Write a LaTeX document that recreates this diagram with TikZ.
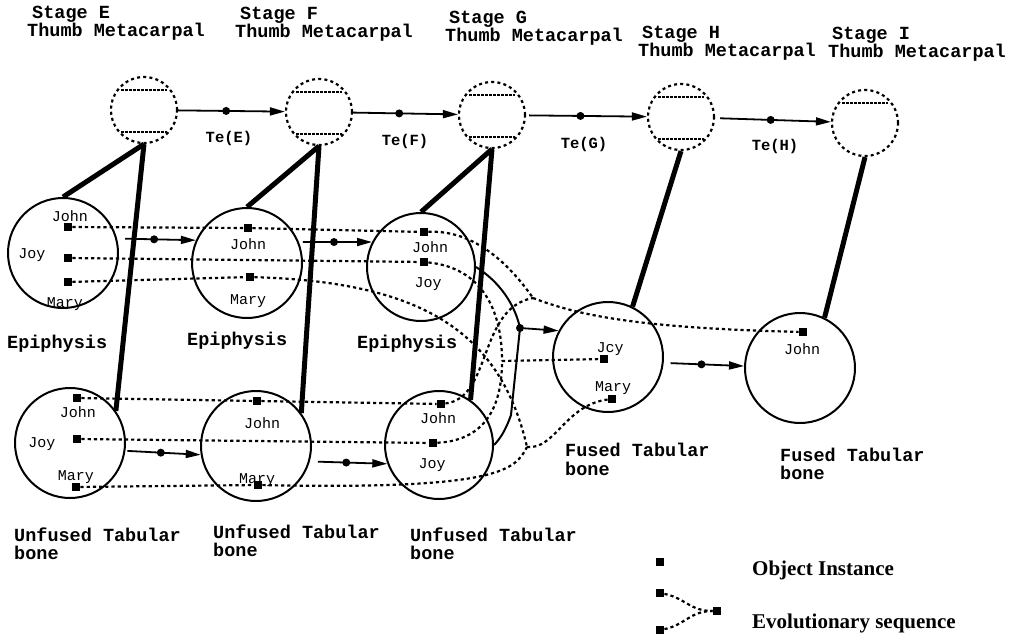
\documentclass[tikz,border=0pt]{standalone}
\usepackage{fontspec}
\setmainfont{Liberation Serif}
\newfontfamily\monof{Liberation Mono}
\usetikzlibrary{arrows.meta,calc}
\begin{document}
\begin{tikzpicture}[x=1pt,y=-1pt,
  title/.style={font=\monof\bfseries\fontsize{18.5}{18}\selectfont, inner sep=0pt, anchor=base west},
  stagetitle/.style={title, align=left},
  lbl/.style={font=\monof\fontsize{15}{15}\selectfont, inner sep=0pt, anchor=base},
  te/.style={font=\monof\bfseries\fontsize{15.5}{15}\selectfont, inner sep=0pt, anchor=base},
  legtext/.style={font=\bfseries\fontsize{21}{21}\selectfont, inner sep=0pt, anchor=base west},
  meta/.style={circle, draw, dash pattern=on 3pt off 3.2pt, line width=2.2pt, minimum size=66pt, inner sep=0pt},
  chord/.style={dash pattern=on 2.5pt off 1.5pt, line width=1.8pt},
  part/.style={circle, draw, line width=2pt, minimum size=110pt, inner sep=0pt},
  partb/.style={part, minimum size=108pt},
  obj/.style={rectangle, fill=black, minimum size=8.5pt, inner sep=0pt},
  evo/.style={dash pattern=on 3.2pt off 3pt, line width=2.2pt},
  link/.style={line width=5pt},
  trans/.style={line width=1.8pt, -{Triangle[length=15pt,width=8pt]}},
  bracket/.style={line width=2pt},
  dotnode/.style={circle, fill=black, minimum size=8pt, inner sep=0pt},
]
\useasboundingbox (0,0) rectangle (1022,639);

% ---------- stage titles ----------
\node[stagetitle] (tE) at (27,37) {\hspace*{5pt}Stage E\\Thumb Metacarpal};
\node[stagetitle] (tF) at (235,38) {\hspace*{5pt}Stage F\\Thumb Metacarpal};
\node[stagetitle] (tG) at (445,42) {\hspace*{4pt}Stage G\\Thumb Metacarpal};
\node[stagetitle] (tH) at (638,57) {\hspace*{4pt}Stage H\\Thumb Metacarpal};
\node[stagetitle] (tI) at (828,58) {\hspace*{4pt}Stage I\\Thumb Metacarpal};

% ---------- metacarpal stage circles ----------
\node[meta] (mE) at (144,110) {};
\node[meta] (mF) at (319,112) {};
\node[meta] (mG) at (492,115) {};
\node[meta] (mH) at (681,117) {};
\node[meta] (mI) at (865,123) {};
\foreach \m in {mE,mF,mG,mH,mI}{
  \draw[chord] ($(\m)+(-23,-20)$) -- ($(\m)+(23,-20)$);
}
\foreach \m in {mE,mF,mG,mH}{
  \draw[chord] ($(\m)+(-23,22)$) -- ($(\m)+(23,22)$);
}

% transitions
\draw[trans] (mE) -- node[dotnode,pos=0.45]{} (mF);
\draw[trans] (mF) -- node[dotnode,pos=0.44]{} (mG);
\draw[trans,shorten <=3pt] (mG) -- node[dotnode,pos=0.45]{} (mH);
\draw[trans,shorten <=5pt] (mH) -- node[dotnode,pos=0.48]{} (mI);
\node[te] (teE) at (229,143) {Te(E)};
\node[te] (teF) at (405,146) {Te(F)};
\node[te] (teG) at (584,149) {Te(G)};
\node[te] (teH) at (775,151) {Te(H)};

% ---------- part circles ----------
\node[part]  (ep1) at (63,253) {};
\node[part]  (ep2) at (247,263) {};
\node[partb] (ep3) at (421,267) {};
\node[part]  (un1) at (70,443) {};
\node[part]  (un2) at (256,446) {};
\node[partb] (un3) at (439,445) {};
\node[part]  (fu1) at (608,357) {};
\node[part]  (fu2) at (800,368) {};

% thick composition links
\draw[link] (mE.south) -- (ep1.north);
\draw[link] (mE.south) -- (un1.35);
\draw[link] (mF.south) -- (ep2.north);
\draw[link] (mF.south) -- (un2.36);
\draw[link] (mG.south) -- (ep3.north);
\draw[link] (mG.south) -- (un3.55);
\draw[link] (mH.south) -- (fu1.64);
\draw[link] (mI.south) -- (fu2.64);

% part labels
\node[title] (lep1) at (7,348) {Epiphysis};
\node[title] (lep2) at (187,345) {Epiphysis};
\node[title] (lep3) at (357,348) {Epiphysis};
\node[title] (lun1a) at (14,541) {Unfused Tabular};
\node[title] (lun1b) at (14,559) {bone};
\node[title] (lun2a) at (213,538) {Unfused Tabular};
\node[title] (lun2b) at (213,556) {bone};
\node[title] (lun3a) at (410,541) {Unfused Tabular};
\node[title] (lun3b) at (410,559) {bone};
\node[title] (lfu1a) at (565,456) {Fused Tabular};
\node[title] (lfu1b) at (565,475) {bone};
\node[title] (lfu2a) at (780,461) {Fused Tabular};
\node[title] (lfu2b) at (780,479) {bone};

% ---------- object instances ----------
\node[obj] (e1John) at (68,227) {};
\node[obj] (e1Joy)  at (68,258) {};
\node[obj] (e1Mary) at (68,282) {};
\node[obj] (e2John) at (248,228) {};
\node[obj] (e2Mary) at (250,277) {};
\node[obj] (e3John) at (424,232) {};
\node[obj] (e3Joy)  at (424,262) {};
\node[obj] (u1John) at (77,398) {};
\node[obj] (u1Joy)  at (77,439) {};
\node[obj] (u1Mary) at (76,487) {};
\node[obj] (u2John) at (257,401) {};
\node[obj] (u2Mary) at (258,485) {};
\node[obj] (u3John) at (441,404) {};
\node[obj] (u3Joy)  at (433,443) {};
\node[obj] (f1Joy)  at (604,359) {};
\node[obj] (f1Mary) at (612,399) {};
\node[obj] (f2John) at (803,332) {};

\node[lbl] (n1) at (70,222) {John};
\node[lbl] (n2) at (32,258) {Joy};
\node[lbl] (n3) at (65,307) {Mary};
\node[lbl] (n4) at (248,249) {John};
\node[lbl] (n5) at (248,304) {Mary};
\node[lbl] (n6) at (430,252) {John};
\node[lbl] (n7) at (428,287) {Joy};
\node[lbl] (n8) at (78,417) {John};
\node[lbl] (n9) at (42,447) {Joy};
\node[lbl] (n10) at (76,480) {Mary};
\node[lbl] (n11) at (262,428) {John};
\node[lbl] (n12) at (257,483) {Mary};
\node[lbl] (n13) at (438,423) {John};
\node[lbl] (n14) at (432,468) {Joy};
\node[lbl] (n15) at (610,352) {Jcy};
\node[lbl] (n16) at (613,391) {Mary};
\node[lbl] (n17) at (802,354) {John};

% ---------- evolutionary sequences ----------
\coordinate (jJohn) at (533,298);
\coordinate (jJoy)  at (502,361);
\coordinate (jMary) at (527,447);
\draw[evo] (e1John) -- (e2John) -- (e3John);
\draw[evo] (e3John) .. controls (470,230) and (505,258) .. (jJohn);
\draw[evo] (u1John) -- (u2John) -- (u3John);
\draw[evo] (u3John) .. controls (492,398) and (478,308) .. (jJohn);
\draw[evo] (jJohn) .. controls (580,316) and (640,328) .. (f2John);
\draw[evo] (e1Joy) -- (e3Joy);
\draw[evo] (e3Joy) .. controls (482,268) and (502,310) .. (jJoy);
\draw[evo] (u1Joy) -- (u3Joy);
\draw[evo] (u3Joy) .. controls (490,440) and (502,400) .. (jJoy);
\draw[evo] (jJoy) -- (f1Joy);
\draw[evo] (e1Mary) -- (e2Mary);
\draw[evo] (e2Mary) .. controls (420,282) and (500,330) .. (jMary);
\draw[evo] (u1Mary) -- (u2Mary);
\draw[evo] (u2Mary) .. controls (500,490) and (515,470) .. (jMary);
\draw[evo] (jMary) .. controls (555,450) and (565,405) .. (f1Mary);

% ---------- transitions between parts ----------
\draw[trans,shorten <=8pt] (ep1.15) -- node[dotnode,pos=0.47]{} (ep2.156);
\draw[trans,shorten <=4pt] (ep2.22) -- node[dotnode,pos=0.48]{} (ep3.153);
\draw[trans,shorten <=2pt] (un1.-8) -- node[dotnode,pos=0.47]{} (un2.189);
\draw[trans,shorten <=8pt] (un2.-16) -- node[dotnode,pos=0.47]{} (un3.200);
\node[dotnode] (junc) at (520,328) {};
\draw[bracket] (ep3.east) .. controls (500,282) and (515,305) .. (junc.center)
  -- (511,415) .. controls (505,432) and (499,440) .. (un3.east);
\draw[trans] (junc) -- (fu1.152);
\draw[trans,shorten <=7pt] (fu1.-6) -- node[dotnode,pos=0.47]{} (fu2.178);

% ---------- legend ----------
\node[obj] (lg1) at (660,562) {};
\node[obj] (lga) at (660,593) {};
\node[obj] (lgb) at (717,611) {};
\node[obj] (lgc) at (660,630) {};
\draw[evo] (lga) .. controls (685,598) and (690,611) .. (lgb);
\draw[evo] (lgc) .. controls (685,625) and (690,611) .. (lgb);
\node[legtext] (lgt1) at (752,575) {Object Instance};
\node[legtext] (lgt2) at (752,628) {Evolutionary sequence};
\end{tikzpicture}
\end{document}
